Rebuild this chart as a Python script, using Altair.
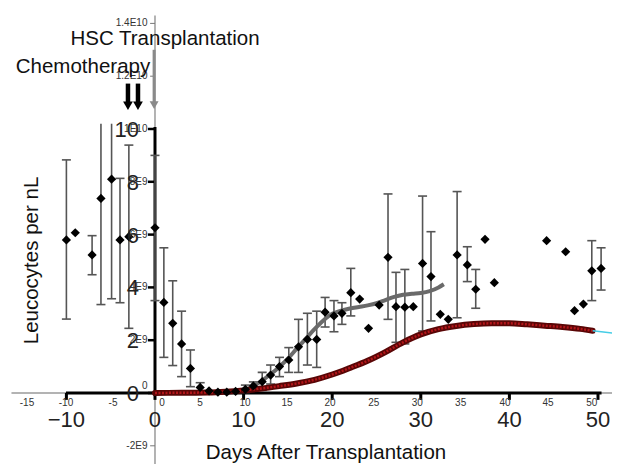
import altair as alt
import pandas as pd

# ---------------- data ----------------
obs_day = [-10.0, -9.0, -7.1, -6.1, -4.9, -3.95, -2.95, 0.0, 1.0, 2.0, 3.0, 4.0, 5.1,
           6.1, 7.1, 8.1, 9.1, 10.2, 11.1, 12.1, 13.05, 14.05, 15.1, 16.2, 17.2, 18.25,
           19.2, 20.2, 21.1, 22.1, 23.1, 24.1, 25.3, 26.3, 27.2, 28.2, 29.15, 30.2, 31.15,
           32.2, 33.1, 34.1, 35.25, 36.2, 37.25, 38.3, 44.2, 46.35, 47.35, 48.35, 49.3, 50.35]
obs_val = [5.8, 6.07, 5.23, 7.37, 8.1, 5.8, 5.92, 6.26, 3.43, 2.64, 1.86, 0.93, 0.21,
           0.08, 0.03, 0.03, 0.06, 0.14, 0.27, 0.43, 0.68, 1.0, 1.25, 1.75, 2.03, 2.03,
           3.06, 2.92, 3.02, 3.8, 3.56, 2.45, 3.33, 5.14, 3.27, 3.25, 3.27, 4.91, 4.41,
           2.98, 2.79, 5.23, 4.85, 3.93, 5.82, 4.18, 5.77, 5.35, 3.12, 3.37, 4.63, 4.72]

err_day = [-10.0, -7.1, -6.1, -4.9, -3.95, -2.95, 0.0, 1.0, 2.0, 3.0, 4.0, 5.1, 10.2, 11.1,
           12.1, 13.05, 14.05, 15.1, 16.2, 17.2, 18.25, 19.2, 20.2, 21.1, 22.1, 26.3, 27.2,
           28.2, 30.2, 31.15, 34.1, 35.25, 36.2, 49.3, 50.35]
err_lo = [2.8, 4.48, 3.35, 3.57, 3.42, 2.45, 3.5, 1.35, 1.04, 0.62, 0.24, 0.02, 0.02, 0.1,
          0.1, 0.34, 0.62, 0.78, 0.78, 1.06, 0.97, 2.5, 2.32, 2.6, 2.92, 2.79, 1.92,
          1.86, 2.35, 2.73, 2.85, 4.22, 3.21, 3.5, 3.9]
err_hi = [8.83, 5.96, 10.2, 10.2, 8.13, 9.39, 9.0, 5.5, 4.25, 3.1, 1.63, 0.39, 0.3, 0.42,
          0.78, 1.06, 1.35, 1.72, 2.79, 3.02, 3.1, 3.62, 3.5, 3.42, 4.72, 7.54, 4.57,
          4.68, 7.46, 6.11, 7.63, 5.54, 4.68, 5.77, 5.5]
err_hi_cap = [True, True, False, False] + [True] * 31

fit_day = [9.5, 10, 11, 12, 13, 14, 15, 16, 17, 18, 19, 20, 21, 22, 23, 24, 25, 26, 27,
           28, 29, 30, 31, 32, 32.6]
fit_val = [0.05, 0.1, 0.25, 0.45, 0.7, 0.98, 1.3, 1.68, 2.05, 2.42, 2.75, 3.0, 3.12, 3.2,
           3.26, 3.32, 3.4, 3.52, 3.64, 3.72, 3.76, 3.79, 3.86, 4.0, 4.12]

model_day = [0, 3, 6, 8, 10, 12, 14, 16, 18, 20, 22, 24, 26, 28, 30, 32, 34, 36, 38, 40,
             42, 44, 46, 48, 49.4]
model_val = [0, 0.01, 0.02, 0.05, 0.1, 0.17, 0.26, 0.36, 0.5, 0.7, 0.95, 1.22, 1.55, 1.92,
             2.22, 2.42, 2.54, 2.61, 2.64, 2.64, 2.6, 2.55, 2.5, 2.43, 2.36]
ext_day = [49.4, 51.6]
ext_val = [2.36, 2.27]

chemo_day = [-3.05, -1.92]
hsc_day = [-0.1]

big_x_ticks = [-10, 0, 10, 20, 30, 40, 50]
big_x_text = ["\u221210", "0", "10", "20", "30", "40", "50"]
big_y_ticks = [0, 2, 4, 6, 8, 10]
big_y_text = ["0", "2", "4", "6", "8", "10"]

small_x_text = ["-15", "-10", "-5", "0", "5", "10", "15", "20", "25", "30", "35", "40", "45", "50"]
small_x_pos = [-14.45, -10.05, -4.74, 0.79, 5.08, 10.16, 14.9, 19.75, 24.7, 29.6, 34.5,
               39.5, 44.36, 49.3]
small_y_text = ["1.4E10", "1.2E10", "1E10", "8E9", "6E9", "4E9", "2E9", "0", "-2E9"]
small_y_pos = [14, 12, 10, 8, 6, 4, 2, 0.25, -2]

# ---------------- scales ----------------
XMIN, XMAX = -16.591, 51.581
YMIN, YMAX = -2.689, 14.583
xs = alt.Scale(domain=[XMIN, XMAX], nice=False, zero=False)
ys = alt.Scale(domain=[YMIN, YMAX], nice=False, zero=False)


def X(f):
    return alt.X(f, type="quantitative", scale=xs, axis=None)


def Y(f):
    return alt.Y(f, type="quantitative", scale=ys, axis=None)


def X2(f):
    return alt.X2(f)


def Y2(f):
    return alt.Y2(f)


obs = pd.DataFrame({"d": obs_day, "v": obs_val})
err = pd.DataFrame({"d": err_day, "lo": err_lo, "hi": err_hi, "cap": err_hi_cap})
fit = pd.DataFrame({"d": fit_day, "v": fit_val})
model = pd.DataFrame({"d": model_day, "v": model_val})
ext = pd.DataFrame({"d": ext_day, "v": ext_val})

FONT = "Liberation Sans"

# gray (secondary) axes
gray_axes = pd.DataFrame({"x": [-16.2, 0.0], "x2": [XMAX, 0.0], "y": [0.0, 14.3], "y2": [0.0, YMIN]})
l_gray_axes = alt.Chart(gray_axes).mark_rule(color="#9a9a9a", strokeWidth=1.5).encode(
    x=X("x"), x2=X2("x2"), y=Y("y"), y2=Y2("y2"))

gy = pd.DataFrame({"v": small_y_pos[:7] + [small_y_pos[8]]})
l_gray_yticks = alt.Chart(gy).transform_calculate(a="-0.55", b="0").mark_rule(
    color="#777", strokeWidth=1).encode(x=X("a:Q"), x2=X2("b:Q"), y=Y("v"))

# black main axes
black_axes = pd.DataFrame({"x": [-10.05, 0.0], "x2": [50.4, 0.0], "y": [0.0, 10.08], "y2": [0.0, -0.1]})
l_black_axes = alt.Chart(black_axes).mark_rule(color="#000", strokeWidth=3).encode(
    x=X("x"), x2=X2("x2"), y=Y("y"), y2=Y2("y2"))

bxt = pd.DataFrame({"d": big_x_ticks, "t": big_x_text})
l_bxt = alt.Chart(bxt).transform_calculate(a="0", b="-0.26").mark_rule(
    color="#000", strokeWidth=3).encode(x=X("d"), y=Y("a:Q"), y2=Y2("b:Q"))
byt = pd.DataFrame({"v": big_y_ticks, "t": big_y_text})
l_byt = alt.Chart(byt).transform_calculate(a="-0.8", b="0").mark_rule(
    color="#000", strokeWidth=2.5).encode(x=X("a:Q"), x2=X2("b:Q"), y=Y("v"))

# arrows
arr = pd.DataFrame({"d": chemo_day})
l_arr = alt.Chart(arr).transform_calculate(a="11.72", b="10.95").mark_rule(
    color="#000", strokeWidth=4.5).encode(x=X("d"), y=Y("a:Q"), y2=Y2("b:Q"))
l_arrh = alt.Chart(arr).transform_calculate(a="10.88").mark_point(
    shape="triangle-down", filled=True, color="#000", size=95, opacity=1).encode(
    x=X("d"), y=Y("a:Q"))
harr = pd.DataFrame({"d": hsc_day})
l_harr = alt.Chart(harr).transform_calculate(a="13.0", b="11.0").mark_rule(
    color="#8a8a8a", strokeWidth=3).encode(x=X("d"), y=Y("a:Q"), y2=Y2("b:Q"))
l_harrh = alt.Chart(harr).transform_calculate(a="10.9").mark_point(
    shape="triangle-down", filled=True, color="#8a8a8a", size=80, opacity=1).encode(
    x=X("d"), y=Y("a:Q"))

# error bars
EC = "#555555"
l_err = alt.Chart(err).mark_rule(color=EC, strokeWidth=1.6).encode(
    x=X("d"), y=Y("lo"), y2=Y2("hi"))
l_cap_lo = alt.Chart(err).mark_tick(orient="horizontal", size=9, thickness=1.6, color=EC,
                                    opacity=1).encode(x=X("d"), y=Y("lo"))
l_cap_hi = alt.Chart(err).transform_filter("datum.cap").mark_tick(
    orient="horizontal", size=9, thickness=1.6, color=EC, opacity=1).encode(
    x=X("d"), y=Y("hi"))

# fitted gray curve
l_fit = alt.Chart(fit).mark_line(color="#6a6a6a", strokeWidth=4, interpolate="monotone").encode(
    x=X("d"), y=Y("v"))

# model curve
l_model_o = alt.Chart(model).mark_line(color="#5a0606", strokeWidth=6, interpolate="monotone",
                                       strokeCap="round").encode(x=X("d"), y=Y("v"))
l_model_i = alt.Chart(model).mark_line(color="#b3161a", strokeWidth=2.5, interpolate="monotone",
                                       strokeDash=[2, 1.5]).encode(x=X("d"), y=Y("v"))
l_ext = alt.Chart(ext).mark_line(color="#45cde6", strokeWidth=1.5).encode(x=X("d"), y=Y("v"))

# observations
l_obs = alt.Chart(obs).mark_point(shape="diamond", filled=True, color="#000", size=85,
                                  opacity=1).encode(x=X("d"), y=Y("v"))

# text
l_bxl = alt.Chart(bxt).transform_calculate(a="-1.29").mark_text(
    font=FONT, fontSize=22, color="#222", align="center", baseline="alphabetic").encode(
    x=X("d"), y=Y("a:Q"), text="t:N")
l_byl = alt.Chart(byt).transform_calculate(a="-1.8").mark_text(
    font=FONT, fontSize=22, color="#222", align="right", baseline="middle", dy=1).encode(
    x=X("a:Q"), y=Y("v"), text="t:N")

sxl = pd.DataFrame({"d": small_x_pos, "t": small_x_text})
l_sxl = alt.Chart(sxl).transform_calculate(a="-0.38").mark_text(
    font=FONT, fontSize=10, color="#333", align="center", baseline="middle").encode(
    x=X("d"), y=Y("a:Q"), text="t:N")
syl = pd.DataFrame({"v": small_y_pos, "t": small_y_text})
l_syl = alt.Chart(syl).transform_calculate(a="-0.85").mark_text(
    font=FONT, fontSize=10, color="#333", align="right", baseline="middle").encode(
    x=X("a:Q"), y=Y("v"), text="t:N")

titles = pd.DataFrame({
    "t": ["HSC Transplantation", "Chemotherapy", "Days After Transplantation"],
    "d": [1.13, -8.13, 19.3],
    "v": [13.18, 12.12, -2.5],
})
l_titles = alt.Chart(titles).mark_text(
    font=FONT, fontSize=20.5, color="#111", align="center", baseline="alphabetic").encode(
    x=X("d"), y=Y("v"), text="t:N")
ytitle = pd.DataFrame({"t": ["Leucocytes per nL"], "d": [-13.2], "v": [5.02]})
l_ytitle = alt.Chart(ytitle).mark_text(
    font=FONT, fontSize=20.5, color="#111", align="center", baseline="alphabetic",
    angle=270).encode(x=X("d"), y=Y("v"), text="t:N")

chart = alt.layer(
    l_gray_axes, l_gray_yticks, l_black_axes, l_bxt, l_byt,
    l_harr, l_harrh, l_arr, l_arrh,
    l_err, l_cap_lo, l_cap_hi,
    l_fit, l_model_o, l_model_i, l_ext,
    l_obs,
    l_bxl, l_byl, l_sxl, l_syl, l_titles, l_ytitle,
).properties(
    width=604, height=456,
    autosize=alt.AutoSizeParams(type="none"),
    padding=0,
    background="white",
).configure_view(stroke=None)

chart.save("out.html", embed_options={"renderer": "svg", "actions": False})
